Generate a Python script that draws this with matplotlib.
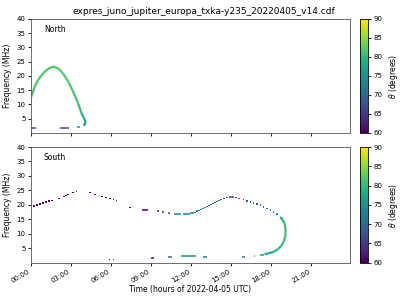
import numpy as np
import matplotlib
matplotlib.use("Agg")
import matplotlib.pyplot as plt
from matplotlib.collections import LineCollection
from matplotlib.colors import Normalize

TITLE = "expres_juno_jupiter_europa_txka-y235_20220405_v14.cdf"
HOUR_TICKS = [0, 3, 6, 9, 12, 15, 18, 21]
FREQ_TICKS = [5, 10, 15, 20, 25, 30, 35, 40]
CB_TICKS = [60, 65, 70, 75, 80, 85, 90]

# North: continuous arc (hours, MHz, theta deg)
north_arc_t = [0.02, 0.28, 0.53, 0.9, 1.28, 1.65, 2.03, 2.4, 2.78, 3.15, 3.53, 3.78, 4.03, 4.1, 3.95]
north_arc_f = [12.7, 16.3, 18.6, 20.9, 22.5, 23.3, 22.7, 20.9, 18.1, 14.6, 10.4, 7.0, 4.6, 3.6, 2.6]
north_arc_th = [81, 81.5, 81.5, 82, 82, 82, 82, 82, 81.5, 81.5, 81, 80, 78, 76, 74]

# North: short dashes (start h, end h, MHz, theta)
north_dash_t0 = [0.0, 2.17, 3.43]
north_dash_t1 = [0.38, 2.85, 3.68]
north_dash_f = [1.9, 1.9, 2.2]
north_dash_th = [67, 67, 75]

# South: isolated dots
south_dot_t = [0.22, 0.45, 0.68, 0.9, 1.13, 1.35, 1.58, 2.1, 2.48, 2.63, 2.78, 3.15, 3.4,
               4.43, 4.8, 5.33, 5.63, 5.93, 6.18, 6.4, 7.43, 5.88, 6.18,
               12.3, 12.45, 12.6, 12.75, 12.9, 13.05, 13.2, 13.35, 13.5, 13.65, 13.8, 13.95,
               14.1, 14.25, 14.45, 14.68, 15.38, 15.6,
               15.93, 16.18, 16.43, 16.68, 16.93, 17.18, 17.43, 17.68, 17.93, 18.18, 18.43]
south_dot_f = [19.6, 19.9, 20.3, 20.6, 21.0, 21.3, 21.5, 22.2, 22.9, 23.3, 23.6, 24.3, 24.7,
               24.3, 23.6, 22.9, 22.6, 22.2, 21.9, 21.5, 19.1, 1.2, 1.2,
               17.4, 17.8, 18.1, 18.4, 18.8, 19.1, 19.5, 19.8, 20.2, 20.5, 20.9, 21.2,
               21.5, 21.9, 22.2, 22.6, 22.6, 22.2,
               21.9, 21.4, 21.1, 20.7, 20.3, 19.9, 19.3, 18.8, 18.2, 17.6, 16.8]
south_dot_th = [60.5, 60.5, 60.5, 60.5, 60.5, 60.5, 60.5, 60.5, 60.5, 60.5, 60.5, 60.5, 60.5,
                60.5, 60.5, 60.5, 60.5, 60.5, 60.5, 60.5, 61, 60.5, 60.5,
                73, 73, 72.5, 72.5, 72, 72, 71.5, 71, 70.5, 70, 69.5, 69,
                68.5, 68, 67.5, 67, 66.5, 67,
                67, 67.5, 68, 68.5, 69.5, 70.5, 71.5, 72.5, 73.5, 74.5, 76]

# South: dashes
south_dash_t0 = [8.33, 9.43, 9.83, 10.28, 10.73, 11.38, 11.93, 14.85,
                 9.0, 10.28, 11.25, 12.9, 15.8, 16.68, 17.18]
south_dash_t1 = [8.78, 9.58, 9.98, 10.43, 11.23, 11.88, 12.23, 15.18,
                 9.23, 10.58, 12.35, 13.2, 16.03, 16.8, 17.43]
south_dash_f = [18.1, 17.8, 17.4, 17.1, 16.7, 16.7, 17.1, 22.9,
                1.55, 1.9, 2.2, 1.9, 2.0, 2.3, 2.6]
south_dash_th = [60.5, 62, 64, 66, 73, 73, 73, 66,
                 61, 70, 74, 72, 73, 75, 76]

# South: continuous loop
south_loop_t = [18.68, 18.85, 19.0, 19.08, 19.05, 18.93, 18.75, 18.5, 18.18, 17.8, 17.5]
south_loop_f = [15.9, 14.8, 13.6, 11.3, 9.0, 7.3, 5.8, 4.7, 3.8, 3.3, 2.9]
south_loop_th = [77, 79, 80, 80.5, 80.5, 80, 80, 79.5, 79, 78, 77]

cmap = plt.get_cmap("viridis")
norm = Normalize(60, 90)


def add_line(ax, t, f, th, lw):
    pts = np.column_stack([t, f])
    segs = np.stack([pts[:-1], pts[1:]], axis=1)
    th = np.asarray(th, dtype=float)
    lc = LineCollection(segs, cmap=cmap, norm=norm, linewidths=lw, capstyle="butt")
    lc.set_array((th[:-1] + th[1:]) / 2)
    ax.add_collection(lc)


def add_dashes(ax, t0, t1, f, th, lw=1.1):
    for a, b, y, c in zip(t0, t1, f, th):
        ax.plot([a, b], [y, y], color=cmap(norm(c)), lw=lw, solid_capstyle="butt")


def style_axis(ax, label, show_x):
    ax.set_xlim(0, 23.9)
    ax.set_ylim(0, 40)
    ax.set_yticks(FREQ_TICKS)
    ax.set_xticks(HOUR_TICKS)
    ax.tick_params(labelsize=5, length=2.5, width=0.6, pad=1.5)
    ax.set_ylabel("Frequency (MHz)", fontsize=5.5, labelpad=3)
    ax.text(0.04, 0.91, label, transform=ax.transAxes, fontsize=5.5, va="center")
    for s in ax.spines.values():
        s.set_linewidth(0.6)
        s.set_color("#555555")
    if show_x:
        ax.set_xticklabels(["%02d:00" % h for h in HOUR_TICKS], rotation=30, ha="right")
        ax.set_xlabel("Time (hours of 2022-04-05 UTC)", fontsize=5.5, labelpad=1)
    else:
        ax.set_xticklabels([])


def add_cbar(fig, rect):
    cax = fig.add_axes(rect)
    sm = plt.cm.ScalarMappable(norm=norm, cmap=cmap)
    cb = fig.colorbar(sm, cax=cax)
    cb.set_ticks(CB_TICKS)
    cb.ax.tick_params(labelsize=5, length=2.5, width=0.6, pad=1.5)
    cb.set_label(r"$\theta$ (degrees)", fontsize=5.5, labelpad=3)
    cb.outline.set_linewidth(0.6)


fig = plt.figure(figsize=(4, 3), dpi=100)
ax_n = fig.add_axes([0.0775, 0.5567, 0.7975, 0.38])
ax_s = fig.add_axes([0.0775, 0.124, 0.7975, 0.386])

add_line(ax_n, north_arc_t, north_arc_f, north_arc_th, 1.6)
add_dashes(ax_n, north_dash_t0, north_dash_t1, north_dash_f, north_dash_th)

ax_s.scatter(south_dot_t, south_dot_f, c=south_dot_th, cmap=cmap, norm=norm,
             marker="s", s=1.3, linewidths=0)
add_dashes(ax_s, south_dash_t0, south_dash_t1, south_dash_f, south_dash_th)
add_line(ax_s, south_loop_t, south_loop_f, south_loop_th, 1.6)

style_axis(ax_n, "North", False)
style_axis(ax_s, "South", True)

add_cbar(fig, [0.9, 0.5567, 0.02, 0.38])
add_cbar(fig, [0.9, 0.124, 0.02, 0.386])

fig.suptitle(TITLE, fontsize=6.5, x=0.51, y=0.978)

fig.savefig("out.png", dpi=100)
